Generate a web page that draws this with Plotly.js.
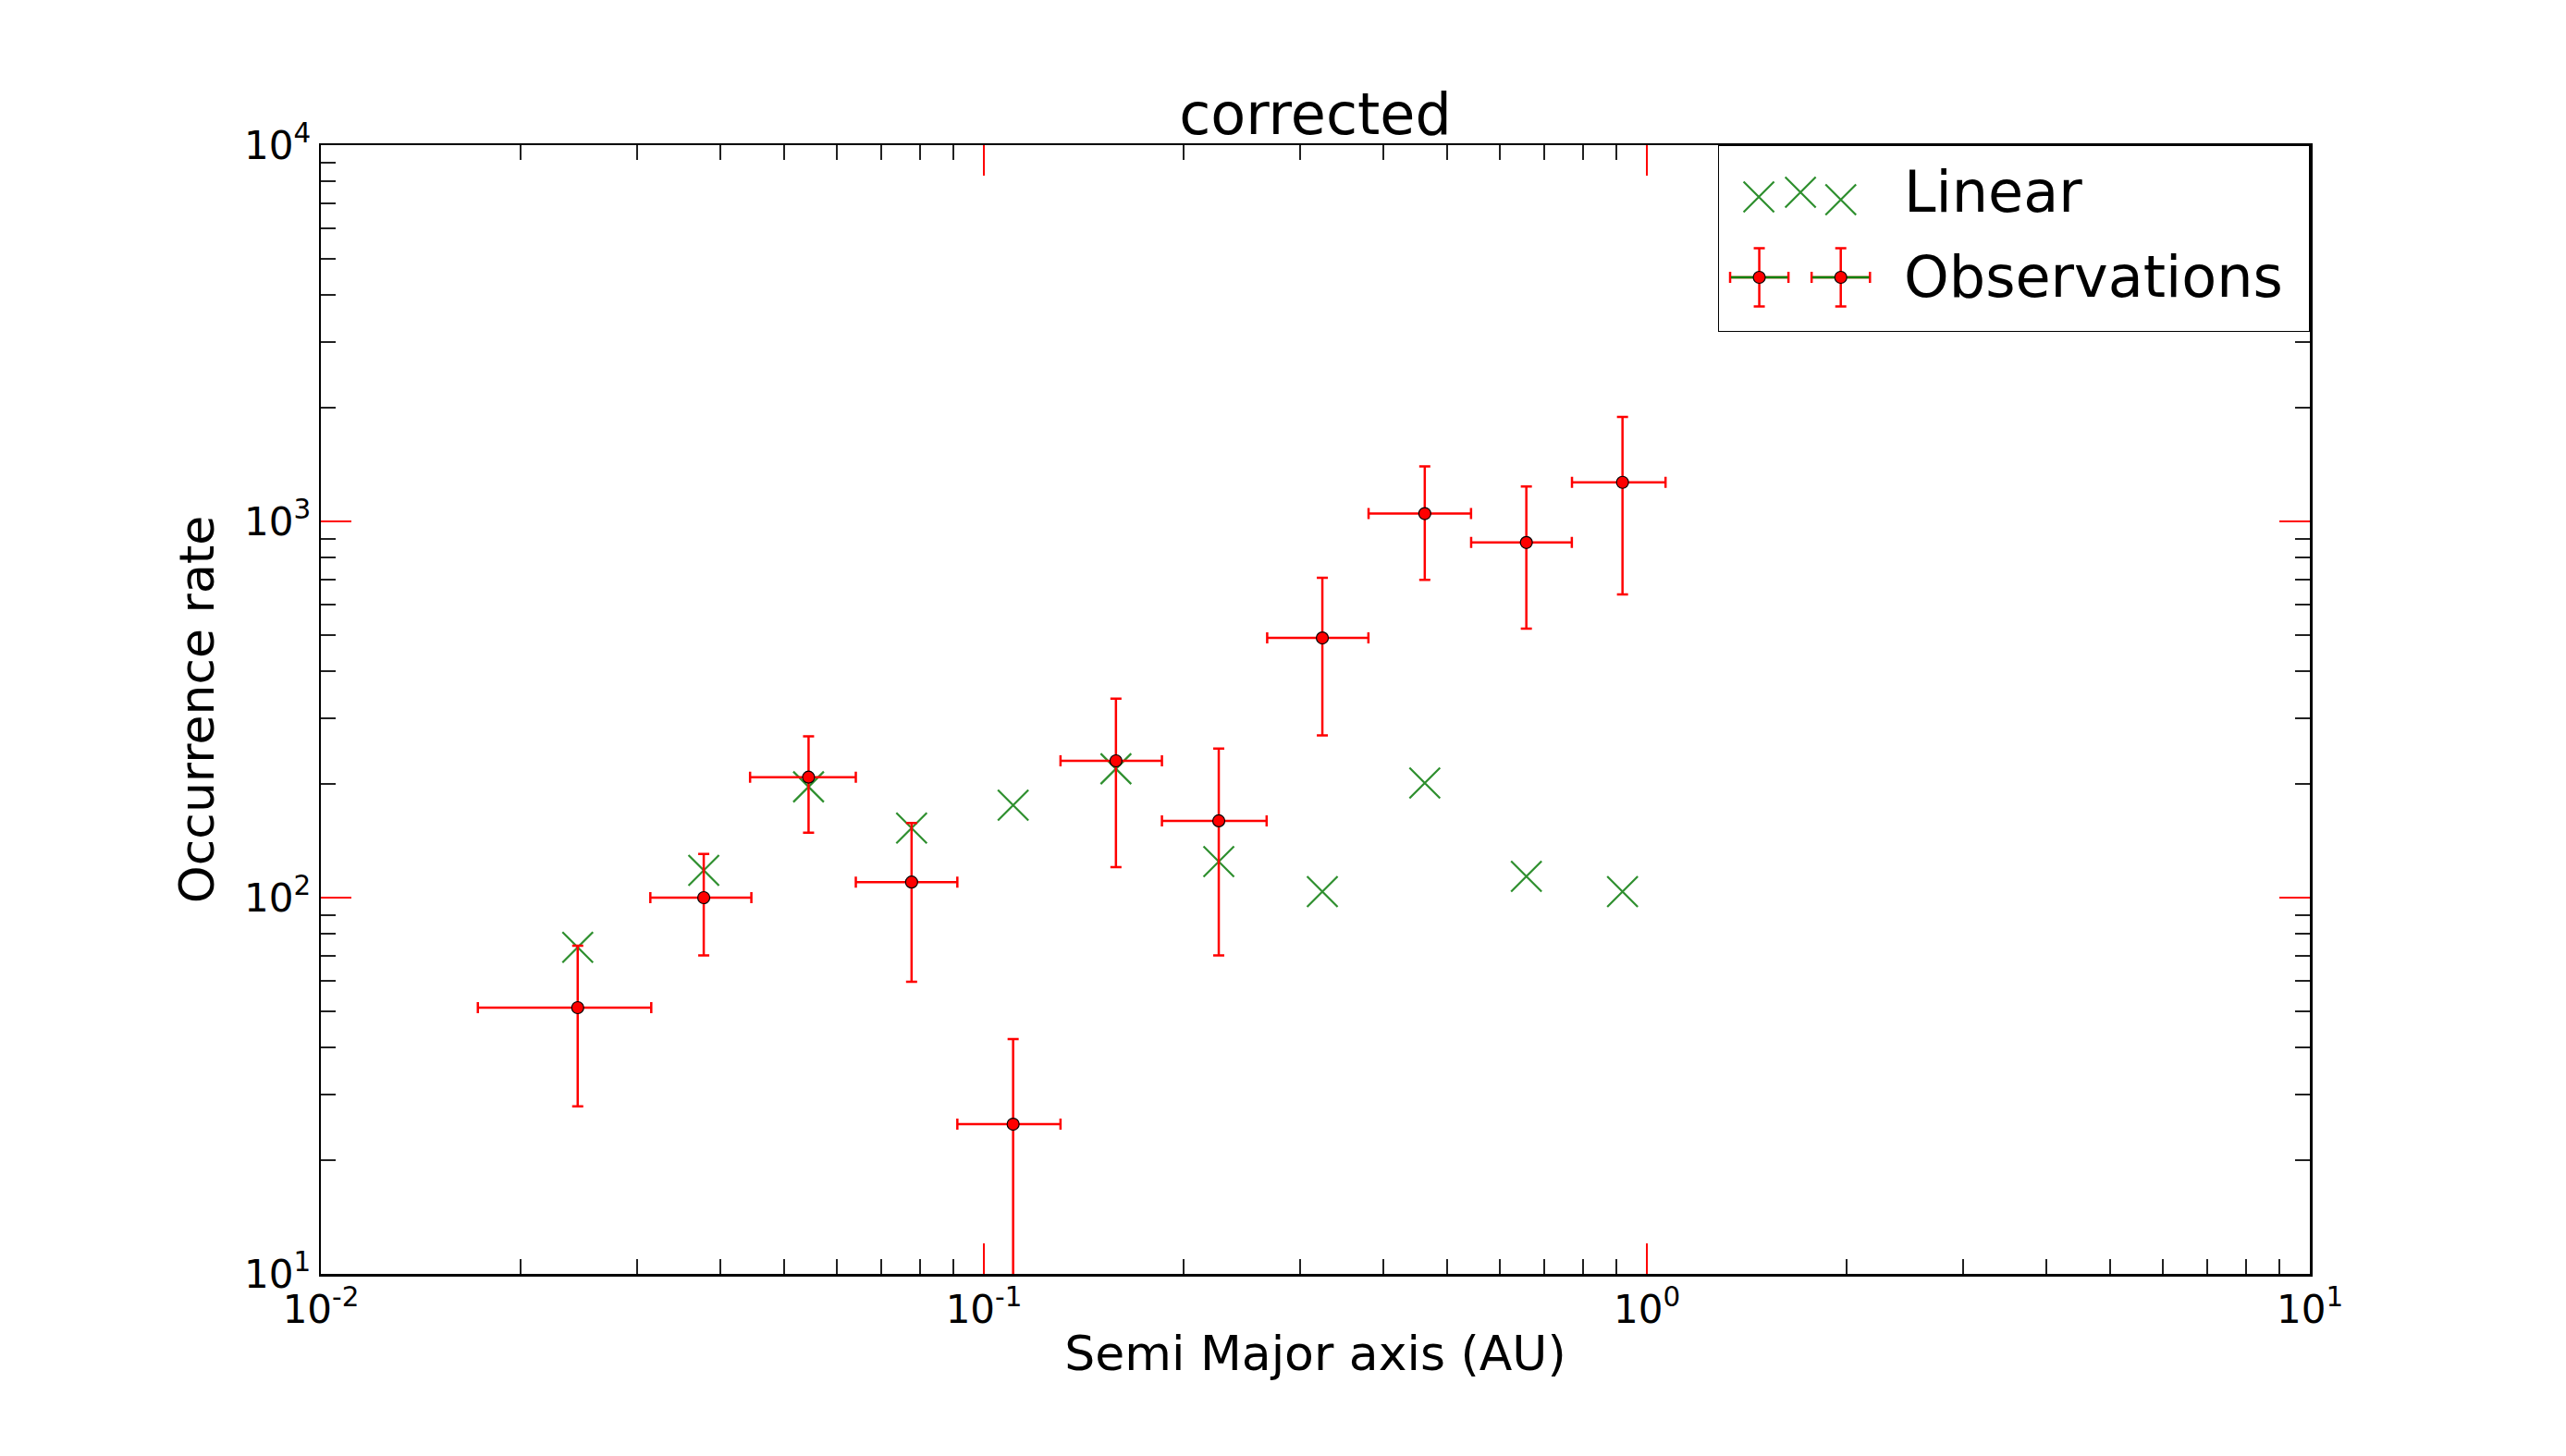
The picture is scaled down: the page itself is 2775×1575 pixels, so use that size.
<!DOCTYPE html>
<html>
<head>
<meta charset="utf-8">
<script src="https://cdn.plot.ly/plotly-3.0.1.min.js"></script>
<style>
  html, body { margin: 0; padding: 0; background: #fff; }
  #chart { width: 2775px; height: 1575px; }
</style>
</head>
<body>
<div id="chart"></div>
<script>
// ---- data ----
const semiMajor  = [0.0244, 0.0378, 0.0544, 0.0778, 0.1107, 0.1582, 0.2261, 0.324, 0.4624, 0.658, 0.9189];
const binLow     = [0.01725, 0.0314, 0.0444, 0.0641, 0.0912, 0.1305, 0.1856, 0.2675, 0.3804, 0.5432, 0.771];
const binHigh    = [0.0315, 0.0446, 0.0641, 0.0912, 0.1305, 0.1856, 0.267, 0.3802, 0.543, 0.7706, 1.067];
const obsRate    = [51, 100, 209, 110, 25, 231, 160, 490, 1049, 879, 1270];
const obsUpper   = [74.5, 130.6, 268.5, 158, 42.1, 338, 249, 708, 1401, 1238, 1896];
const obsLower   = [27.9, 70.2, 148.8, 59.8, 5, 120.5, 70.2, 270, 699, 519, 640];
const linearRate = [73.8, 118.2, 197, 153, 176, 220, 124.7, 103.7, 201.7, 113.9, 103.7];

const xTickVals = [0.01, 0.1, 1, 10];
const xTickText = ['10<sup>-2</sup>', '10<sup>-1</sup>', '10<sup>0</sup>', '10<sup>1</sup>'];
const yTickVals = [10, 100, 1000, 10000];
const yTickText = ['10<sup>1</sup>', '10<sup>2</sup>', '10<sup>3</sup>', '10<sup>4</sup>'];

const titleText = 'corrected';
const xTitle = 'Semi Major axis (AU)';
const yTitle = 'Occurrence rate';
const legendNames = ['Linear', 'Observations'];

// minor ticks (2..9 per decade)
function minorTicks(d0, d1) {
  const out = [];
  for (let d = d0; d < d1; d++) for (let k = 2; k <= 9; k++) out.push(k * Math.pow(10, d));
  return out;
}

const FONT = 'DejaVu Sans, Liberation Sans, sans-serif';
const RED = '#ff0000';
const GREEN = '#2e8f2e';

const errPlus  = binHigh.map((v, i) => v - semiMajor[i]);
const errMinus = binLow.map((v, i) => semiMajor[i] - v);
const yPlus  = obsUpper.map((v, i) => v - obsRate[i]);
const yMinus = obsLower.map((v, i) => obsRate[i] - v);

const traces = [
  {
    x: semiMajor, y: linearRate, type: 'scatter', mode: 'markers', name: legendNames[0],
    showlegend: false,
    marker: { symbol: 'x-thin', size: 33, color: GREEN, line: { color: GREEN, width: 2.2 } },
    xaxis: 'x', yaxis: 'y'
  },
  {
    x: semiMajor, y: obsRate, type: 'scatter', mode: 'markers', name: legendNames[1],
    showlegend: false,
    error_x: { type: 'data', array: errPlus, arrayminus: errMinus, symmetric: false,
               color: RED, thickness: 2.5, width: 6 },
    error_y: { type: 'data', array: yPlus, arrayminus: yMinus, symmetric: false,
               color: RED, thickness: 2.5, width: 6 },
    marker: { symbol: 'circle', size: 13, color: RED, line: { color: '#000', width: 1.2 } },
    xaxis: 'x', yaxis: 'y'
  },
  // ---- custom legend glyphs (in legend-box pixel space) ----
  {
    x: [1902, 1947, 1990.5], y: [213, 208, 216], type: 'scatter', mode: 'markers',
    showlegend: false, hoverinfo: 'skip',
    marker: { symbol: 'x-thin', size: 33, color: GREEN, line: { color: GREEN, width: 2.2 } },
    xaxis: 'x2', yaxis: 'y2'
  },
  {
    x: [1902.5, 1990.5], y: [300, 300], type: 'scatter', mode: 'markers',
    showlegend: false, hoverinfo: 'skip',
    error_x: { type: 'constant', value: 31.5, color: RED, thickness: 2.5, width: 6 },
    error_y: { type: 'constant', value: 31.5, color: RED, thickness: 2.5, width: 6 },
    marker: { size: 0.1, color: RED },
    xaxis: 'x2', yaxis: 'y2'
  },
  {
    x: [1872, 1933, null, 1960, 2021], y: [300, 300, null, 300, 300], type: 'scatter', mode: 'lines',
    showlegend: false, hoverinfo: 'skip',
    line: { color: '#008000', width: 2.5 },
    xaxis: 'x2', yaxis: 'y2'
  },
  {
    x: [1902.5, 1990.5], y: [300, 300], type: 'scatter', mode: 'markers',
    showlegend: false, hoverinfo: 'skip',
    marker: { symbol: 'circle', size: 13, color: RED, line: { color: '#000', width: 1.2 } },
    xaxis: 'x2', yaxis: 'y2'
  }
];

const axisCommon = {
  showline: true, linecolor: '#000', linewidth: 2.5, mirror: 'allticks',
  ticks: 'inside', ticklen: 33, tickwidth: 2, tickcolor: RED,
  showgrid: false, zeroline: false,
  tickfont: { family: FONT, size: 42, color: '#000' },
  tickmode: 'array'
};

const layout = {
  width: 2775, height: 1575,
  paper_bgcolor: '#fff', plot_bgcolor: '#fff',
  margin: { l: 347, r: 277, t: 157, b: 197 },
  showlegend: false,
  title: {
    text: titleText, font: { family: FONT, size: 62, color: '#000' },
    x: 0.5, xref: 'paper', xanchor: 'center',
    y: 1, yref: 'paper', yanchor: 'bottom', pad: { b: 12 }
  },
  xaxis: Object.assign({}, axisCommon, {
    type: 'log', range: [-2, 1], tickvals: xTickVals, ticktext: xTickText,
    minor: { tickmode: 'array', tickvals: minorTicks(-2, 1), ticks: 'inside', ticklen: 16, tickwidth: 2, tickcolor: '#222', showgrid: false },
    title: { text: xTitle, font: { family: FONT, size: 52, color: '#000' }, standoff: 6 },
    anchor: 'y', domain: [0, 1]
  }),
  yaxis: Object.assign({}, axisCommon, {
    type: 'log', range: [1, 4], tickvals: yTickVals, ticktext: yTickText,
    minor: { tickmode: 'array', tickvals: minorTicks(1, 4), ticks: 'inside', ticklen: 16, tickwidth: 2, tickcolor: '#222', showgrid: false },
    title: { text: yTitle, font: { family: FONT, size: 52, color: '#000' }, standoff: 16 },
    anchor: 'x', domain: [0, 1]
  }),
  xaxis2: { domain: [(1858 - 347) / 2151, 1], range: [1858, 2497], anchor: 'y2', visible: false, fixedrange: true },
  yaxis2: { domain: [(1378 - 359) / 1221, 1], range: [359, 157], anchor: 'x2', visible: false, fixedrange: true },
  shapes: [
    { type: 'rect', xref: 'x2', yref: 'y2', x0: 1858, x1: 2497, y0: 157, y1: 359,
      line: { color: '#000', width: 2 }, fillcolor: 'rgba(0,0,0,0)', layer: 'above' }
  ],
  annotations: [
    { text: legendNames[0], xref: 'x2', yref: 'y2', x: 2057, y: 207, xanchor: 'left', yanchor: 'middle',
      showarrow: false, font: { family: FONT, size: 62, color: '#000' } },
    { text: legendNames[1], xref: 'x2', yref: 'y2', x: 2057, y: 299, xanchor: 'left', yanchor: 'middle',
      showarrow: false, font: { family: FONT, size: 62, color: '#000' } }
  ]
};

Plotly.newPlot('chart', traces, layout, { staticPlot: true, displayModeBar: false });
</script>
</body>
</html>
